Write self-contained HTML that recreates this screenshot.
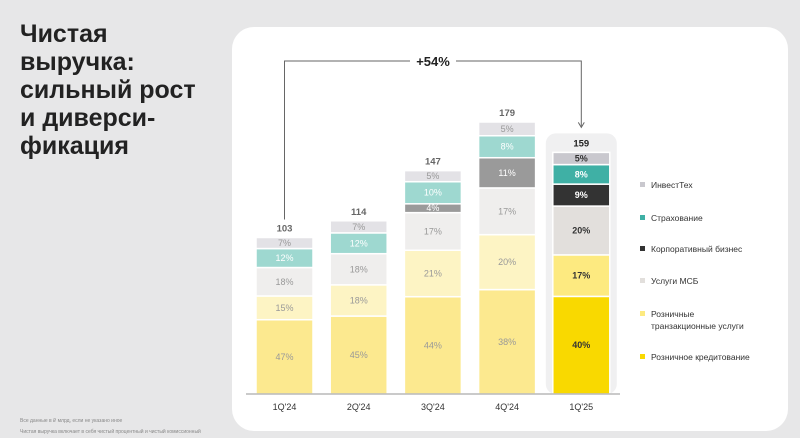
<!DOCTYPE html>
<html><head><meta charset="utf-8"><style>
body{margin:0;width:800px;height:438px;background:#e7e7e8;font-family:"Liberation Sans",sans-serif;overflow:hidden;position:relative}
#title{position:absolute;left:20px;top:20px;font-size:25px;font-weight:bold;line-height:28px;color:#222;margin:0}
.note{position:absolute;left:20px;font-size:5px;color:#888}
#card{position:absolute;left:232px;top:27px;width:556px;height:404px;background:#fff;border-radius:22px}
svg{position:absolute;left:0;top:0}
</style></head><body>
<h1 id="title">Чистая<br>выручка:<br>сильный рост<br>и диверси-<br>фикация</h1>
<div class="note" style="top:418px">Все данные в ₽ млрд, если не указано иное</div>
<div class="note" style="top:429px">Чистая выручка включает в себя чистый процентный и чистый комиссионный</div>
<div id="card"></div>
<svg id="chart" width="800" height="438"></svg>
<script>
const categories=["1Q'24","2Q'24","3Q'24","4Q'24","1Q'25"];
const totals=[103,114,147,179,159];
const retailCredit=[47,45,44,38,40];
const retailTrans=[15,18,21,20,17];
const sme=[18,18,17,17,20];
const corporate=[0,0,4,11,9];
const insurance=[12,12,10,8,8];
const investTech=[7,7,5,5,5];
const seriesNames=["Розничное кредитование","Розничные транзакционные услуги","Услуги МСБ","Корпоративный бизнес","Страхование","ИнвестТех"];
const growthLabel="+54%";
const S=[retailCredit,retailTrans,sme,corporate,insurance,investTech];
const oldC=["#fce98f","#fdf4c4","#efeeed","#9a9a9a","#9ed8d0","#e3e2e6"];
const newC=["#f9d900","#fdea80","#e2dfdc","#333333","#3fb0a5","#c9c8ce"];
const oldT=["#999","#999","#999","#fff","#fff","#999"];
const newT=["#333","#333","#333","#fff","#fff","#333"];
const svg=document.getElementById('chart');const NS="http://www.w3.org/2000/svg";
function mk(t,a,p){const e=document.createElementNS(NS,t);for(const k in a)e.setAttribute(k,a[k]);(p||svg).appendChild(e);return e;}
const base=394,k=272/179,x0=256,step=74.2,bw=57;
const xs=i=>x0+i*step, ys=v=>base-v*k;
const last=categories.length-1;
let hl=mk('rect',{x:xs(last)-7,y:ys(totals[last])-19,width:bw+14,height:base-ys(totals[last])+19,rx:10,fill:"#f0f0f1"});

categories.forEach((c,i)=>{
 const sum=S.reduce((a,s)=>a+s[i],0);let cum=0;const isN=i===last;
 S.forEach((s,j)=>{if(!s[i])return;const v=s[i]/sum*totals[i];const y1=ys(cum+v),y0=ys(cum);cum+=v;
  const r=mk('rect',{x:xs(i),y:y1,width:bw,height:y0-y1,fill:(isN?newC:oldC)[j],stroke:"#fff","stroke-width":1.5});
  
  const t=mk('text',{x:xs(i)+bw/2,y:(y0+y1)/2+3,"text-anchor":"middle","font-size":9,fill:(isN?newT:oldT)[j],"font-weight":isN?"bold":"normal"});t.textContent=s[i]+"%";
  });
 const tt=mk('text',{x:xs(i)+bw/2,y:ys(totals[i])-6,"text-anchor":"middle","font-size":9.5,"font-weight":"bold",fill:isN?"#222":"#666"});tt.textContent=totals[i];
 
 const xl=mk('text',{x:xs(i)+bw/2,y:410,"text-anchor":"middle","font-size":9,fill:"#333"});xl.textContent=c;
 
});
const ax=mk('line',{x1:246,x2:620,y1:base,y2:base,stroke:"#aaa","stroke-width":1.2});
const ax1=xs(0)+bw/2,ax2=xs(last)+bw/2;
const br=mk('path',{d:`M${ax1} ${ys(totals[0])-18}V61H${ax2}V${ys(totals[last])-26}`,fill:"none",stroke:"#666","stroke-width":1});

mk('path',{d:`M${ax2-3} ${ys(totals[last])-30}L${ax2} ${ys(totals[last])-25}L${ax2+3} ${ys(totals[last])-30}`,fill:"none",stroke:"#666"});
mk('rect',{x:410,y:52,width:46,height:18,fill:"#fff"});
const gl=mk('text',{x:433,y:66,"text-anchor":"middle","font-size":13,"font-weight":"bold",fill:"#222"});gl.textContent=growthLabel;

const legY=[357,314,281,249,218,185];
seriesNames.forEach((n,j)=>{const y=legY[j];
 const m=mk('rect',{x:640,y:y-3,width:5,height:5,fill:newC[j]});
 const lines=j===1?["Розничные","транзакционные услуги"]:[n];
 lines.forEach((l,q)=>{const t=mk('text',{x:651,y:y+3+q*12,"font-size":8.5,fill:"#333"});t.textContent=l;});
});
</script>
</body></html>
